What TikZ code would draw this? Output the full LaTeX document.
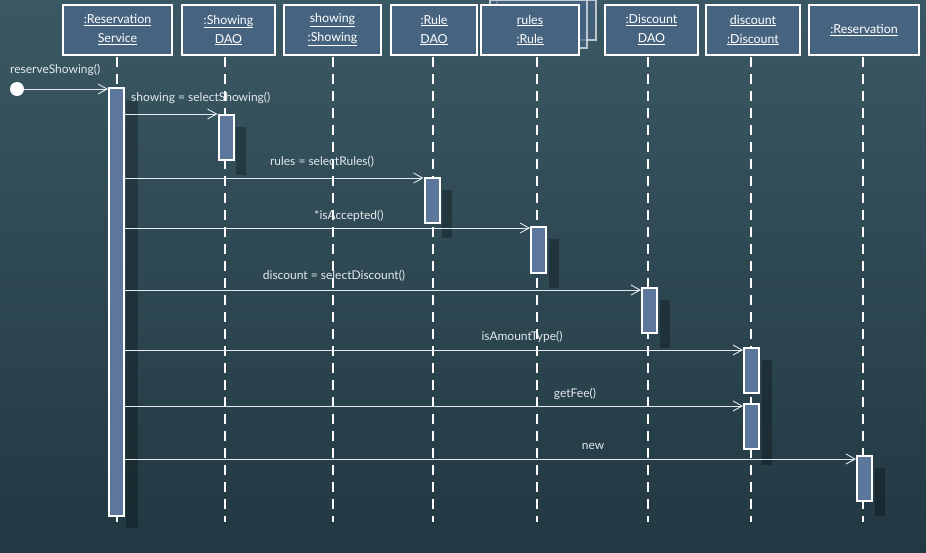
\documentclass[tikz,border=0pt]{standalone}
\usepackage{fontspec}
\setmainfont{Lato}
\usetikzlibrary{arrows.meta,calc}
\definecolor{bgtop}{RGB}{58,88,99}
\definecolor{bgmid}{RGB}{46,74,86}
\definecolor{bgbot}{RGB}{34,56,66}
\definecolor{hdr}{RGB}{70,100,128}
\definecolor{actc}{RGB}{92,118,156}
\definecolor{txt}{RGB}{228,234,238}
\begin{document}
\begin{tikzpicture}[x=1pt,y=-1pt,
  hdrbox/.style={draw=white, line width=2pt, fill=hdr, minimum height=50, align=center,
     text=white, font=\fontsize{12.4}{19}\selectfont, inner sep=0pt},
  backbox/.style={draw=white!80!hdr, line width=1.6pt, fill=hdr, fill opacity=0.7, draw opacity=0.8},
  lifeline/.style={draw=white, line width=2.2pt, dash pattern=on 10pt off 7pt},
  actbox/.style={draw=white, line width=2pt, fill=actc, minimum width=15, inner sep=0pt},
  shadowbox/.style={fill=black, opacity=0.28},
  msg/.style={draw=txt, line width=1pt, -{Straight Barb[length=9pt,width=10pt,line width=0.9pt]}},
  lbl/.style={text=txt, font=\fontsize{12}{13}\selectfont, inner sep=0pt}
]
\useasboundingbox (0,0) rectangle (926,552);
\shade[top color=bgtop, middle color=bgmid, bottom color=bgbot] (0,0) rectangle (926,552);

% stacked back boxes for rules
\draw[backbox] (497,0) rectangle (596,40);
\draw[backbox] (490,0) rectangle (587,48);

% header boxes
\node[hdrbox, minimum width=109] (rs) at (117.5,30) {\underline{:Reservation}\\\underline{Service}};
\node[hdrbox, minimum width=93] (sd) at (228.5,30) {\underline{:Showing}\\\underline{DAO}};
\node[hdrbox, minimum width=97] (sh) at (332.5,30) {\underline{showing}\\\underline{:Showing}};
\node[hdrbox, minimum width=86] (rd) at (434,30) {\underline{:Rule}\\\underline{DAO}};
\node[hdrbox, minimum width=98] (ru) at (530,30) {\underline{rules}\\\underline{:Rule}};
\node[hdrbox, minimum width=93] (dd) at (651.5,30) {\underline{:Discount}\\\underline{DAO}};
\node[hdrbox, minimum width=94] (di) at (753,30) {\underline{discount}\\\underline{:Discount}};
\node[hdrbox, minimum width=110] (re) at (864,30) {\underline{:Reservation}};

% lifeline ends
\coordinate (e1) at (117,522);
\coordinate (e2) at (225,522);
\coordinate (e3) at (333,522);
\coordinate (e4) at (433,522);
\coordinate (e5) at (537,522);
\coordinate (e6) at (648,522);
\coordinate (e7) at (751,522);
\coordinate (e8) at (863,522);
\coordinate (s1) at (117,57);
\coordinate (s2) at (225,57);
\coordinate (s3) at (333,57);
\coordinate (s4) at (433,57);
\coordinate (s5) at (537,57);
\coordinate (s6) at (648,57);
\coordinate (s7) at (751,57);
\coordinate (s8) at (863,57);
\foreach \i in {1,...,8} \draw[lifeline] (s\i) -- (e\i);

% shadows
\fill[shadowbox] (126,100) rectangle (138,528);
\fill[shadowbox] (236,127) rectangle (246,175);
\fill[shadowbox] (442,190) rectangle (452,238);
\fill[shadowbox] (549,239) rectangle (559,288);
\fill[shadowbox] (660,300) rectangle (670,348);
\fill[shadowbox] (762,360) rectangle (772,465);
\fill[shadowbox] (875,468) rectangle (885,516);

% activations
\node[actbox, minimum height=428] (a1) at (116.5,302) {};
\node[actbox, minimum height=45] (a2) at (226,137.5) {};
\node[actbox, minimum height=45] (a3) at (432,200.5) {};
\node[actbox, minimum height=46] (a4) at (538.5,250) {};
\node[actbox, minimum height=45] (a5) at (649.5,310.5) {};
\node[actbox, minimum height=45] (a6) at (751.5,370.5) {};
\node[actbox, minimum height=45] (a7) at (751.5,426.5) {};
\node[actbox, minimum height=45] (a8) at (864.5,478.5) {};

% start point
\node[circle, fill=white, minimum size=14, inner sep=0pt] (st) at (17,89) {};

% message end points
\coordinate (m2) at ($(a2.north west)+(0,0)$);
\coordinate (m3) at ($(a3.north west)+(0,1)$);
\coordinate (m4) at ($(a4.north west)+(0,2)$);
\coordinate (m5) at ($(a5.north west)+(0,3)$);
\coordinate (m6) at ($(a6.north west)+(0,3)$);
\coordinate (m7) at ($(a7.north west)+(0,3)$);
\coordinate (m8) at ($(a8.north west)+(0,4)$);

% messages
\draw[msg] (st) -- (st -| a1.west);
\foreach \i in {2,...,8} \draw[msg] (a1.east |- m\i) -- (m\i);

% labels
\node[lbl, anchor=west] (l0) at (10,70) {reserveShowing()};
\node[lbl, anchor=west] (l1) at (131,98) {showing = selectShowing()};
\node[lbl] (l2) at (322,162) {rules = selectRules()};
\node[lbl] (l3) at (349,216) {*isAccepted()};
\node[lbl] (l4) at (334,276) {discount = selectDiscount()};
\node[lbl] (l5) at (522,337) {isAmountType()};
\node[lbl] (l6) at (575,394) {getFee()};
\node[lbl] (l7) at (593,446) {new};
\end{tikzpicture}
\end{document}
